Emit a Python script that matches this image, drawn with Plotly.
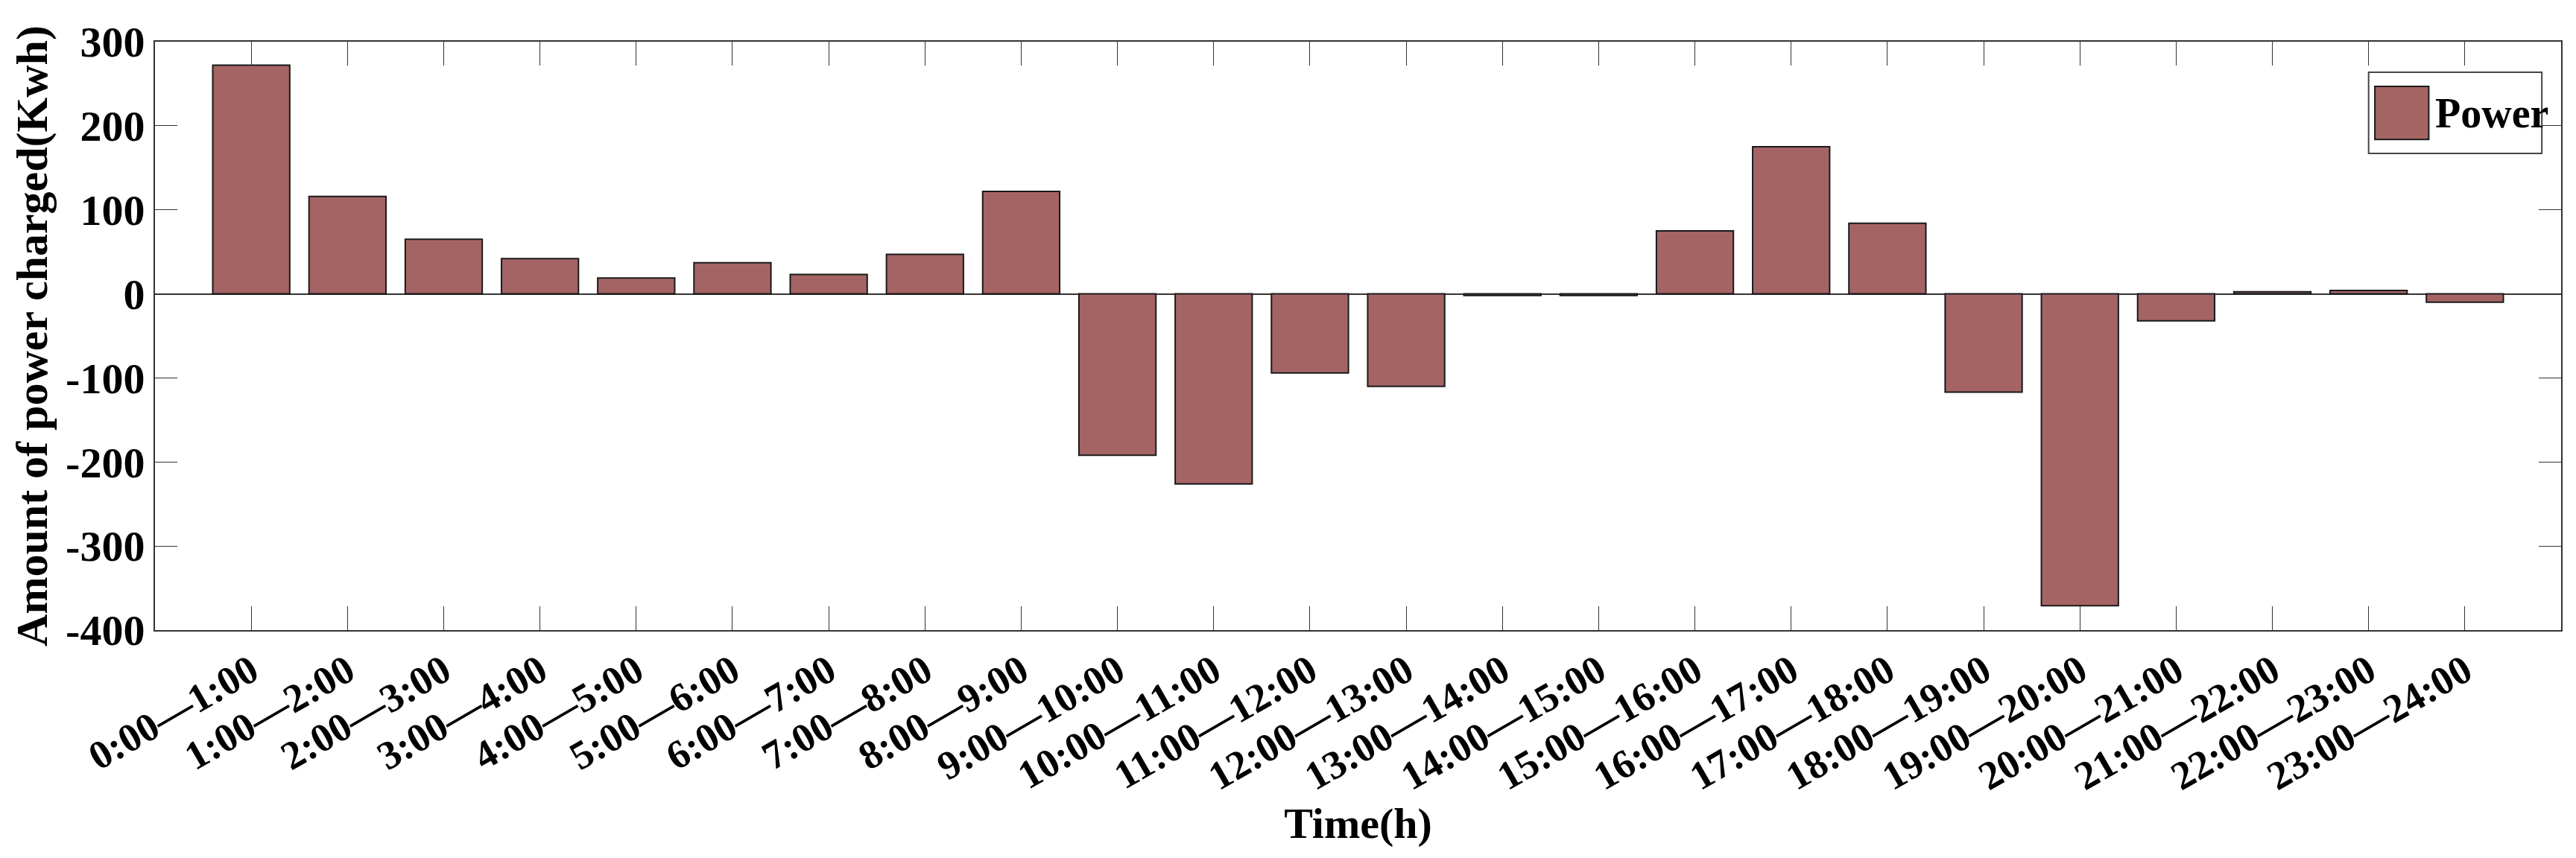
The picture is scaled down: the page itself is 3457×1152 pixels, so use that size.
import plotly.graph_objects as go

hours = list(range(1, 25))
labels = [f"{h-1}:00—{h}:00" for h in hours]
power = [272, 116, 65, 42, 19, 37, 23, 47, 122, -192, -226, -94, -110, -2, -2,
         75, 175, 84, -117, -371, -32, 2.5, 4, -10]
yticks = [-400, -300, -200, -100, 0, 100, 200, 300]
ytext = [str(v) for v in yticks]

font = "Liberation Serif"
color = "#A56464"
fig = go.Figure(go.Bar(x=hours, y=power, name="Power", width=0.8,
                       marker=dict(color=color, line=dict(color="#1a1a1a", width=2)),
                       showlegend=False))
fig.update_layout(
    width=3457, height=1152, paper_bgcolor="white", plot_bgcolor="white",
    margin=dict(l=200, r=28, t=48, b=314),
    font=dict(family=font, color="black", size=56),
    showlegend=False,
)
# legend drawn as box + swatch + text
fig.add_shape(type="rect", xref="paper", yref="paper", x0=0.920, x1=0.992, y0=0.810, y1=0.948,
              line=dict(color="#444", width=2), fillcolor="white", layer="above")
fig.add_shape(type="rect", xref="paper", yref="paper", x0=0.9226, x1=0.945, y0=0.834, y1=0.924,
              line=dict(color="#1a1a1a", width=2), fillcolor=color, layer="above")
fig.add_annotation(xref="paper", yref="paper", x=0.947, y=0.879, xanchor="left", yanchor="middle",
                   text="<b>Power</b>", showarrow=False, font=dict(family=font, size=56))
fig.update_xaxes(range=[0, 25], tickmode="array", tickvals=hours, ticktext=labels,
                 tickangle=-30, ticks="inside", ticklen=32, tickcolor="#333",
                 showline=True, linecolor="#333", linewidth=2, mirror="ticks",
                 showgrid=False, zeroline=False,
                 tickfont=dict(family=font, size=54, weight="bold"),
                 title=dict(text="<b>Time(h)</b>", font=dict(family=font, size=58), standoff=8))
fig.update_yaxes(range=[-400, 300], tickmode="array", tickvals=yticks, ticktext=ytext,
                 ticks="inside", ticklen=30, tickcolor="#333",
                 showline=True, linecolor="#333", linewidth=2, mirror="ticks",
                 showgrid=False, zeroline=True, zerolinecolor="#333", zerolinewidth=2,
                 tickfont=dict(family=font, size=58, weight="bold"),
                 title=dict(text="<b>Amount of power charged(Kwh)</b>", font=dict(family=font, size=60), standoff=5))
fig.write_html("out.html")
